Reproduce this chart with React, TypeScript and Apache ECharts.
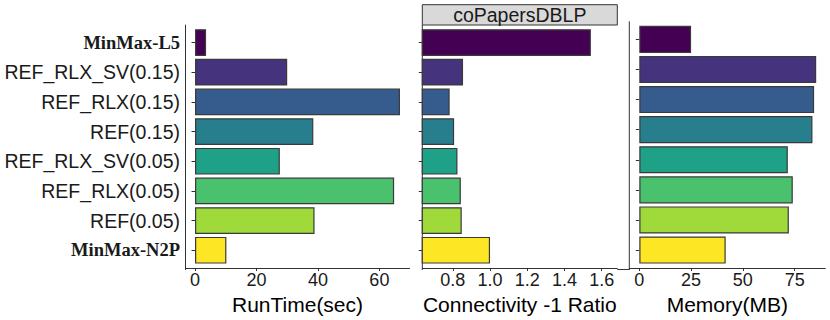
import React, { useEffect, useRef } from "react";
import * as echarts from "echarts";

const categories = [
  "MinMax-L5",
  "REF_RLX_SV(0.15)",
  "REF_RLX(0.15)",
  "REF(0.15)",
  "REF_RLX_SV(0.05)",
  "REF_RLX(0.05)",
  "REF(0.05)",
  "MinMax-N2P",
];
const boldCategories = ["MinMax-L5", "MinMax-N2P"];
const runTime = [3.6, 30.0, 66.7, 38.5, 27.6, 64.8, 38.9, 10.2];
const connectivityRatio = [1.542, 0.855, 0.783, 0.807, 0.825, 0.843, 0.848, 1.0];
const memoryMB = [25.0, 85.4, 84.4, 83.6, 71.7, 74.1, 72.2, 41.7];
const runTimeTicks = [0, 20, 40, 60];
const ratioTicks = [0.8, 1.0, 1.2, 1.4, 1.6];
const memoryTicks = [0, 25, 50, 75];
const stripTitle = "coPapersDBLP";
const axisTitles = ["RunTime(sec)", "Connectivity -1 Ratio", "Memory(MB)"];

const palette = ["#440154", "#46337E", "#365C8D", "#277F8E", "#1FA187", "#4AC16D", "#9FDA3A", "#FDE725"];

const SANS = "'Liberation Sans', Arial, sans-serif";
const SERIF = "'Liberation Serif', 'Times New Roman', serif";
const AXIS_COLOR = "#333333";

const panels = [
  { left: 185.5, width: 224, top: 27.7, height: 238.8, min: -3.1, max: 69.8, ticks: runTimeTicks, data: runTime, fmt: (v: number) => String(v), axisTop: 24.7 },
  { left: 422.3, width: 195, top: 27.7, height: 238.8, min: 0.636, max: 1.684, ticks: ratioTicks, data: connectivityRatio, fmt: (v: number) => v.toFixed(1), axisTop: 25.0 },
  { left: 629.3, width: 196, top: 24.3, height: 242.2, min: -4.83, max: 89.8, ticks: memoryTicks, data: memoryMB, fmt: (v: number) => String(v), axisTop: 21.3 },
];
const AXIS_BOTTOM = 269.5;

export default function App() {
  const ref = useRef<HTMLDivElement>(null);
  useEffect(() => {
    if (!ref.current) return;
    const chart = echarts.init(ref.current, undefined, { renderer: "svg" });
    const option: any = {
      animation: false,
      backgroundColor: "#ffffff",
      grid: panels.map((p) => ({ left: p.left, top: p.top, width: p.width, height: p.height, containLabel: false })),
      xAxis: panels.map((p, i) => ({
        type: "value",
        gridIndex: i,
        min: p.min,
        max: p.max,
        offset: AXIS_BOTTOM - (p.top + p.height),
        axisLine: { show: true, onZero: false, lineStyle: { color: AXIS_COLOR, width: 1 } },
        axisTick: { show: true, length: 3, customValues: p.ticks, lineStyle: { color: AXIS_COLOR } },
        axisLabel: {
          show: true,
          customValues: p.ticks,
          formatter: (v: number) => p.fmt(v),
          fontFamily: SANS,
          fontSize: 18,
          color: "#1a1a1a",
          margin: 3,
        },
        splitLine: { show: false },
        name: axisTitles[i],
        nameLocation: "middle",
        nameGap: 20,
        nameTextStyle: { fontFamily: SANS, fontSize: 21, color: "#000000" },
      })),
      yAxis: panels.map((p, i) => ({
        type: "category",
        gridIndex: i,
        data: categories,
        inverse: true,
        axisLine: { show: false },
        axisTick: { show: true, alignWithLabel: true, length: 3.5, lineStyle: { color: AXIS_COLOR } },
        axisLabel: {
          show: i === 0,
          margin: 5.5,
          fontFamily: SANS,
          fontSize: 19.5,
          color: "#1a1a1a",
          formatter: (v: string) => (boldCategories.includes(v) ? `{b|${v}}` : v),
          rich: {
            b: { fontFamily: SERIF, fontWeight: "bold", fontSize: 18.5, color: "#1a1a1a" },
          },
        },
        splitLine: { show: false },
      })),
      series: panels.map((p, i) => ({
        type: "bar",
        xAxisIndex: i,
        yAxisIndex: i,
        barWidth: "90%",
        clip: true,
        data: p.data.map((v, j) => ({
          value: v,
          itemStyle: { color: palette[j], borderColor: "#3a3a3a", borderWidth: 1.2 },
        })),
      })),
      graphic: [
        ...panels.map((p) => ({
          type: "line",
          shape: { x1: p.left, y1: p.axisTop, x2: p.left, y2: AXIS_BOTTOM + 0.5 },
          style: { stroke: AXIS_COLOR, lineWidth: 1 },
          silent: true,
        })),
        {
          type: "line",
          shape: { x1: 617.3, y1: AXIS_BOTTOM, x2: 629.3, y2: AXIS_BOTTOM },
          style: { stroke: AXIS_COLOR, lineWidth: 1 },
          silent: true,
        },
        {
          type: "rect",
          shape: { x: 422.3, y: 4.7, width: 195, height: 20.3 },
          style: { fill: "#d9d9d9", stroke: "#333333", lineWidth: 1 },
          silent: true,
        },
        {
          type: "text",
          x: 519.8,
          y: 15.4,
          style: {
            text: stripTitle,
            fontFamily: SANS,
            fontSize: 19.5,
            fill: "#1a1a1a",
            align: "center",
            verticalAlign: "middle",
          },
          silent: true,
        },
      ],
    };
    chart.setOption(option);
    return () => chart.dispose();
  }, []);
  return <div ref={ref} style={{ width: 830, height: 320, position: "absolute", left: 0, top: 0 }} />;
}
